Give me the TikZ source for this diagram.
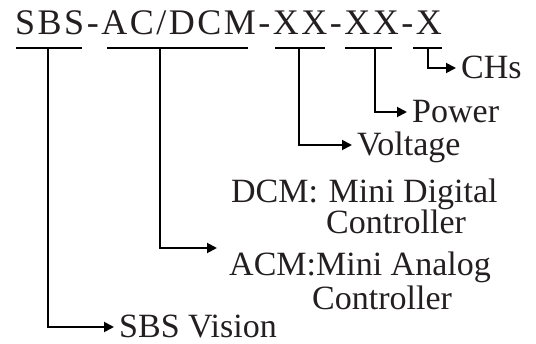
\documentclass[tikz,border=0pt]{standalone}
\usepackage{fontspec}
\setmainfont{Liberation Serif}
\newfontfamily\codefont[LetterSpace=7]{Liberation Serif}
\usetikzlibrary{arrows, arrows.meta, calc}
\definecolor{ink}{RGB}{35,31,32}
\tikzset{
  x=1pt, y=-1pt,
  every node/.style={align=center}
}

\begin{document}
\begin{tikzpicture}
\tikzstyle{code}=[font=\codefont\fontsize{36}{40}\selectfont, text=ink,
  inner sep=0pt, anchor=base west]
\tikzstyle{label}=[font=\fontsize{34}{40}\selectfont, text=ink,
  inner ysep=0pt, inner xsep=5pt, text height=22pt, text depth=0pt,
  anchor=west]
\tikzstyle{lines}=[font=\fontsize{34}{29}\selectfont, text=ink,
  inner sep=0pt, anchor=base west, align=left]
\tikzstyle{bar}=[draw, line width=2.8pt]
\tikzstyle{lead}=[draw, line width=1.9pt, -{Triangle[length=10pt, width=10pt]}]

\useasboundingbox (0,0) rectangle (536,344);

% model code
\node[code](model) at (15,35){SBS-AC/DCM-XX-XX-X};

% underlines, one per field
\foreach \a/\b/\c/\n in {16/82/48/usbs, 107/248/160/uac, 275/325/299/uvolt,
    345/392/375/upow, 413/442/428/uch}{
  \draw[bar] (\a,48) -- (\b,48);
  \coordinate (\n) at (\c,48);
}

% field names
\node[label](chs) at (456,68){CHs};
\node[label](power) at (407,112){Power};
\node[label](voltage) at (352,145){Voltage};
\node[label](vision) at (114,327){SBS Vision};

% controller types
\node[lines](dcm) at (231,234){DCM:\hspace{2pt} Mini Digital\\
  \hspace*{95pt}Controller};
\node[lines](acm) at (229,310){ACM:Mini Analog\\[3pt]
  \hspace*{83pt}Controller};
\coordinate (ctrl) at (217,248);

\draw[lead](uch) |- (chs);
\draw[lead](upow) |- (power);
\draw[lead](uvolt) |- (voltage);
\draw[lead](uac) |- (ctrl);
\draw[lead](usbs) |- (vision);

\end{tikzpicture}
\end{document}
